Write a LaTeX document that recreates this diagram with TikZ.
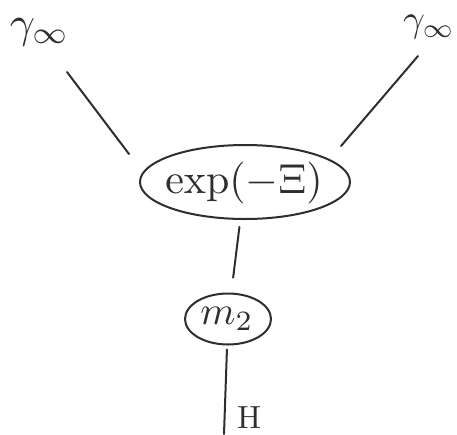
\documentclass[tikz,border=0pt]{standalone}
\usepackage{graphicx}
\usepackage{amsmath}
\usetikzlibrary{shapes.geometric}
\begin{document}
\begin{tikzpicture}[x=1pt,y=-1pt,
  ink/.style={line width=2pt, draw=black!82},
  lbl/.style={inner sep=0pt, text=black!82},
  bubble/.style={ink, ellipse, inner sep=0pt},
  wire/.style={ink, line cap=round}]
\useasboundingbox (0,0) rectangle (457,434);
% tensor nodes: outlines, then their contents
\node[bubble, minimum width=210pt, minimum height=74pt] (xi) at (245,182) {};
\node[lbl] (xitext) at (244,183) {\scalebox{4.2}{$\exp(-\Xi)$}};
\node[bubble, minimum width=86pt, minimum height=51pt] (m2) at (228,319) {};
\node[lbl] (m2text) at (227,319) {\scalebox{4}{$m_2$}};
% boundary labels
\node[lbl] (gl) at (40,32) {\scalebox{4.4}{$\gamma_\infty$}};
\node[lbl] (gr) at (429,27) {\scalebox{3.8}{$\gamma_\infty$}};
\node[lbl] (h) at (249,418) {\scalebox{3.2}{$\mathrm{H}$}};
% free ends of the legs
\coordinate (lt) at (67,72);
\coordinate (lte) at (129,154);
\coordinate (rt) at (418,56);
\coordinate (rte) at (341,146);
\coordinate (bot) at (224,434);
% connectors
\draw[wire] (lt) -- (lte);
\draw[wire] (rt) -- (rte);
\draw[wire, shorten <=7pt, shorten >=15pt] (xi) -- (m2);
\draw[wire, shorten <=4pt] (m2) -- (bot);
\end{tikzpicture}
\end{document}
